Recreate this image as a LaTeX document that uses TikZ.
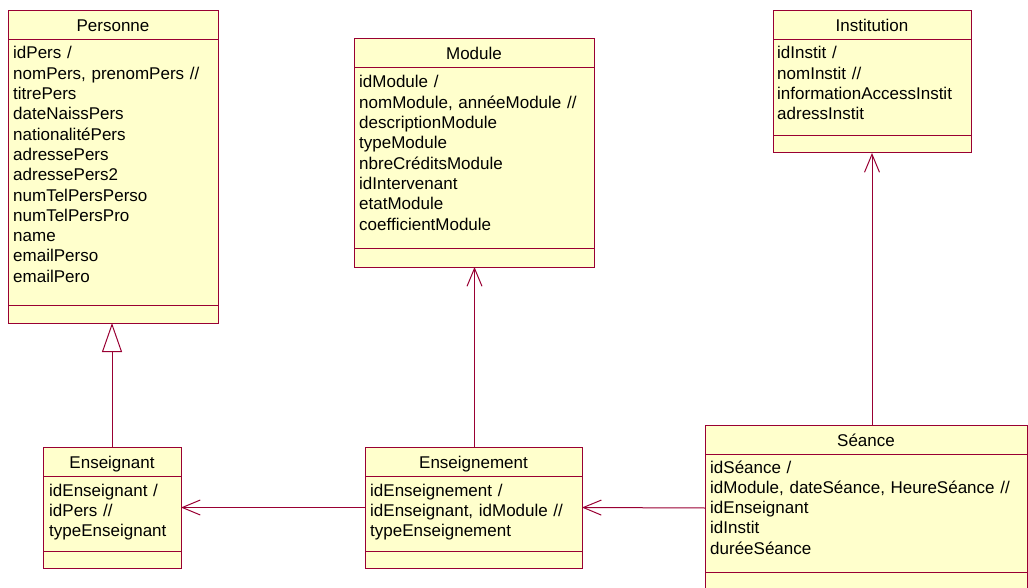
\documentclass[tikz,border=0pt]{standalone}
\usepackage{fontspec}
\setmainfont{Liberation Sans}
\usetikzlibrary{arrows.meta}

\definecolor{roseline}{RGB}{153,0,51}
\definecolor{rosefill}{RGB}{255,255,204}

\begin{document}
\begin{tikzpicture}[
  x=1pt,y=-1pt,
  classbox/.style={draw=roseline,fill=rosefill,line width=1pt,
    anchor=north west,inner sep=0pt,outer sep=0pt},
  sep/.style={draw=roseline,line width=1pt},
  title/.style={anchor=base,inner sep=0pt,
    font=\fontsize{17}{20.3}\selectfont},
  attrs/.style={anchor=base west,inner sep=0pt,text width=330pt,align=left,
    font=\fontsize{17}{20.3}\selectfont},
  assoc/.style={draw=roseline,line width=1pt,
    -{Straight Barb[length=18pt,width=15pt]}},
  inherit/.style={draw=roseline,line width=1pt,
    -{Triangle[open,length=29pt,width=20pt]}}
]
\clip (0,0) rectangle (1028,588);
\useasboundingbox (0,0) rectangle (1028,588);

% Personne
\node[classbox,minimum width=210pt,minimum height=312pt] (personne) at (8,11) {};
\draw[sep] ([yshift=-29pt]personne.north west) -- ([yshift=-29pt]personne.north east);
\draw[sep] ([yshift=-294pt]personne.north west) -- ([yshift=-294pt]personne.north east);
\node[title] at ([yshift=-21pt]personne.north) {Personne};
\node[attrs] at ([xshift=5pt,yshift=-48pt]personne.north west)
  {idPers /\\ nomPers, prenomPers //\\ titrePers\\ dateNaissPers\\
   nationalitéPers\\ adressePers\\ adressePers2\\ numTelPersPerso\\
   numTelPersPro\\ name\\ emailPerso\\ emailPero};

% Module
\node[classbox,minimum width=240pt,minimum height=228pt] (module) at (354,39) {};
\draw[sep] ([yshift=-29pt]module.north west) -- ([yshift=-29pt]module.north east);
\draw[sep] ([yshift=-209pt]module.north west) -- ([yshift=-209pt]module.north east);
\node[title] at ([yshift=-21pt]module.north) {Module};
\node[attrs] at ([xshift=5pt,yshift=-49pt]module.north west)
  {idModule /\\ nomModule, annéeModule //\\ descriptionModule\\ typeModule\\
   nbreCréditsModule\\ idIntervenant\\ etatModule\\ coefficientModule};

% Institution
\node[classbox,minimum width=198pt,minimum height=142pt] (institution) at (773,11) {};
\draw[sep] ([yshift=-29pt]institution.north west) -- ([yshift=-29pt]institution.north east);
\draw[sep] ([yshift=-125pt]institution.north west) -- ([yshift=-125pt]institution.north east);
\node[title] at ([yshift=-21pt]institution.north) {Institution};
\node[attrs] at ([xshift=4pt,yshift=-48pt]institution.north west)
  {idInstit /\\ nomInstit //\\ informationAccessInstit\\ adressInstit};

% Enseignant
\node[classbox,minimum width=138pt,minimum height=121pt] (enseignant) at (43,447) {};
\draw[sep] ([yshift=-29pt]enseignant.north west) -- ([yshift=-29pt]enseignant.north east);
\draw[sep] ([yshift=-104pt]enseignant.north west) -- ([yshift=-104pt]enseignant.north east);
\node[title] at ([yshift=-21pt]enseignant.north) {Enseignant};
\node[attrs] at ([xshift=6pt,yshift=-49pt]enseignant.north west)
  {idEnseignant /\\ idPers //\\ typeEnseignant};

% Enseignement
\node[classbox,minimum width=217pt,minimum height=121pt] (enseignement) at (365,447) {};
\draw[sep] ([yshift=-29pt]enseignement.north west) -- ([yshift=-29pt]enseignement.north east);
\draw[sep] ([yshift=-104pt]enseignement.north west) -- ([yshift=-104pt]enseignement.north east);
\node[title] at ([yshift=-21pt]enseignement.north) {Enseignement};
\node[attrs] at ([xshift=5pt,yshift=-49pt]enseignement.north west)
  {idEnseignement /\\ idEnseignant, idModule //\\ typeEnseignement};

% Seance
\node[classbox,minimum width=322pt,minimum height=166pt] (seance) at (705,425) {};
\draw[sep] ([yshift=-29pt]seance.north west) -- ([yshift=-29pt]seance.north east);
\draw[sep] ([yshift=-147pt]seance.north west) -- ([yshift=-147pt]seance.north east);
\node[title] at ([yshift=-21pt]seance.north) {Séance};
\node[attrs] at ([xshift=5pt,yshift=-48pt]seance.north west)
  {idSéance /\\ idModule, dateSéance, HeureSéance //\\ idEnseignant\\
   idInstit\\ duréeSéance};

% liens
\draw[inherit] (enseignant.north) -- (enseignant.north |- personne.south);
\draw[assoc] ([xshift=1pt]enseignement.north) -- ([xshift=1pt]enseignement.north |- module.south);
\draw[assoc] (enseignement.west) -- (enseignant.east);
\draw[assoc] (seance.west) -- (enseignement.east);
\draw[assoc] (seance.north -| institution.south) -- (institution.south);
\end{tikzpicture}
\end{document}
